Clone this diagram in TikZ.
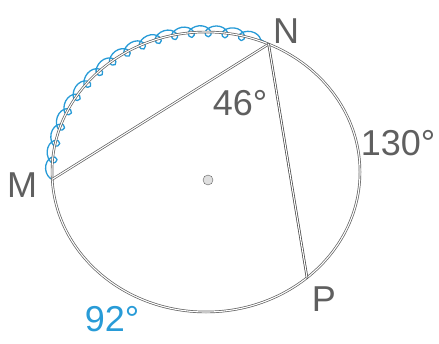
\documentclass[tikz,border=0pt]{standalone}
\usepackage{fontspec}
\setmainfont{Liberation Sans}
\usetikzlibrary{decorations.pathmorphing}
\definecolor{pen}{RGB}{95,95,95}
\definecolor{marker}{RGB}{40,155,215}

\begin{document}
\begin{tikzpicture}[x=1pt,y=1pt, line join=round, line cap=round,
	ring/.style={draw=pen, double=white, double distance=1.1pt, line width=0.7pt},
	lab/.style={text=pen, font=\fontsize{36}{36}\selectfont, inner sep=0pt},
	wavy/.style={draw=marker, line width=1.3pt, decorate,
		decoration={coil, amplitude=6pt, segment length=17pt, aspect=1.1}}]
	\def\rx{154} \def\ry{140} % radii
	\useasboundingbox (0,0) rectangle (439,343);
	\coordinate (O) at (206,171); % centre
	\path (O) ++(183:154 and 140) coordinate (M);
	\path (O) ++(66:154 and 140) coordinate (N);
	\path (O) ++(-49:154 and 140) coordinate (P);
	\draw[wavy] (M) arc[start angle=183, end angle=66, x radius=\rx, y radius=\ry];
	\draw[ring] (O) ellipse [x radius=\rx, y radius=\ry];
	\draw[ring] (M) -- (N);
	\draw[ring, draw=pen!70!black] (N) -- (P);
	\filldraw[draw=pen, fill=gray!25] (208,163) circle (5);
	\node[lab] (labN) at (286,312) {N};
	\node[lab] (labM) at (22,158) {M};
	\node[lab] (labP) at (324,44) {P};
	\node[lab] (lab46) at (240,240) {46°};
	\node[lab] (lab130) at (398,200) {130°};
	\node[lab, text=marker] (lab92) at (112,24) {92°};
\end{tikzpicture}
\end{document}
